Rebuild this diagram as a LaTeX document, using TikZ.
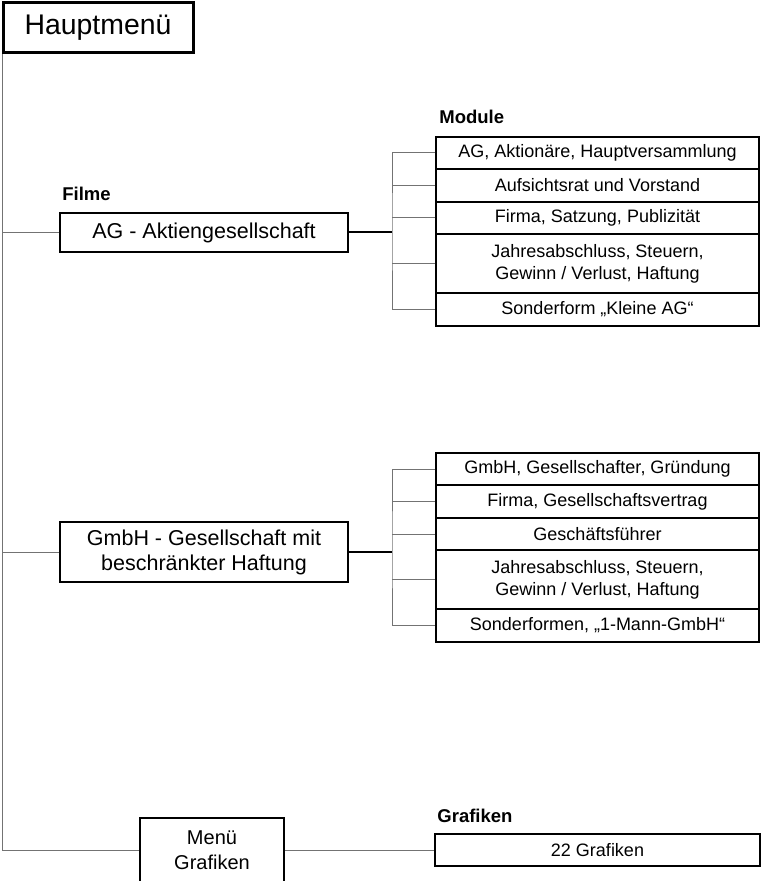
\documentclass[tikz,border=0pt]{standalone}
\usepackage{fontspec}
\setmainfont{Liberation Sans}
\usetikzlibrary{positioning}

\begin{document}
\begin{tikzpicture}[x=0.5pt, y=-0.5pt,
    box/.style={rectangle, draw, line width=0.75pt, inner sep=0pt, align=center, font=\fontsize{10.75}{12.5}\selectfont},
    modbox/.style={rectangle, draw, line width=0.75pt, inner sep=0pt, minimum width=161.5pt, align=center, font=\fontsize{9}{11}\selectfont},
    hdr/.style={anchor=base west, inner sep=0pt, font=\fontsize{9.25}{11}\selectfont\bfseries},
    conn/.style={draw=black!55, line width=0.5pt},
    feed/.style={draw=black, line width=1pt}
]
    \useasboundingbox (0,0) rectangle (762,881);
    % main menu and films
    \node[box, line width=1.5pt, minimum width=95pt, minimum height=25pt, font=\fontsize{14.2}{16}\selectfont] (haupt) at (98, 28) {Hauptmenü};
    \node[hdr] (filme) at (62, 201) {Filme};
    \node[box, minimum width=144pt, minimum height=19.5pt] (ag) at (204, 232.5) {AG - Aktiengesellschaft};
    \node[box, minimum width=144pt, minimum height=30pt] (gmbh) at (204, 552) {GmbH - Gesellschaft mit\\beschränkter Haftung};
    \node[box, minimum width=72pt, minimum height=32pt, font=\fontsize{10}{12.5}\selectfont] (menue) at (212, 850) {Menü\\Grafiken};
    % modules
    \node[hdr] (module) at (439, 124) {Module};
    \foreach \yc/\h/\txt [count=\i] in {
        153/16/{AG, Aktionäre, Hauptversammlung},
        185.5/16.5/{Aufsichtsrat und Vorstand},
        218/16/{Firma, Satzung, Publizität},
        263.5/29.5/{Jahresabschluss, Steuern,\\Gewinn / Verlust, Haftung},
        309.5/16.5/{Sonderform „Kleine AG“}} {
        \node[modbox, minimum height=\h pt] (agm\i) at (597.5, \yc) {\txt};
    }
    \foreach \yc/\h/\txt [count=\i] in {
        469/16/{GmbH, Gesellschafter, Gründung},
        501.5/16.5/{Firma, Gesellschaftsvertrag},
        534/16/{Geschäftsführer},
        579.5/29.5/{Jahresabschluss, Steuern,\\Gewinn / Verlust, Haftung},
        625.5/16.5/{Sonderformen, „1-Mann-GmbH“}} {
        \node[modbox, minimum height=\h pt] (gmm\i) at (597.5, \yc) {\txt};
    }
    % graphics
    \node[hdr] (grafhdr) at (437, 822) {Grafiken};
    \node[modbox, minimum width=162.5pt, minimum height=16pt] (graf) at (597.5, 850) {22 Grafiken};

    % connectors
    \coordinate (spine) at ([xshift=0.5pt]haupt.south west);
    \draw[conn] (spine) |- (menue.west);
    \draw[conn] (ag.west) -- (ag.west -| spine);
    \draw[conn] (gmbh.west) -- (gmbh.west -| spine);
    \draw[conn] (menue.east) -- (graf.west);

    \coordinate (agbus) at (392, 232.5);
    \draw[feed] (ag.east) -- (agbus);
    \draw[conn] (agm1.west) -| (agbus) |- (agm5.west);
    \foreach \i in {2,3,4} \draw[conn] (agm\i.west) -- (agm\i.west -| agbus);

    \coordinate (gmbus) at (392, 552);
    \draw[feed] (gmbh.east) -- (gmbus);
    \draw[conn] (gmm1.west) -| (gmbus) |- (gmm5.west);
    \foreach \i in {2,3,4} \draw[conn] (gmm\i.west) -- (gmm\i.west -| gmbus);
\end{tikzpicture}
\end{document}
